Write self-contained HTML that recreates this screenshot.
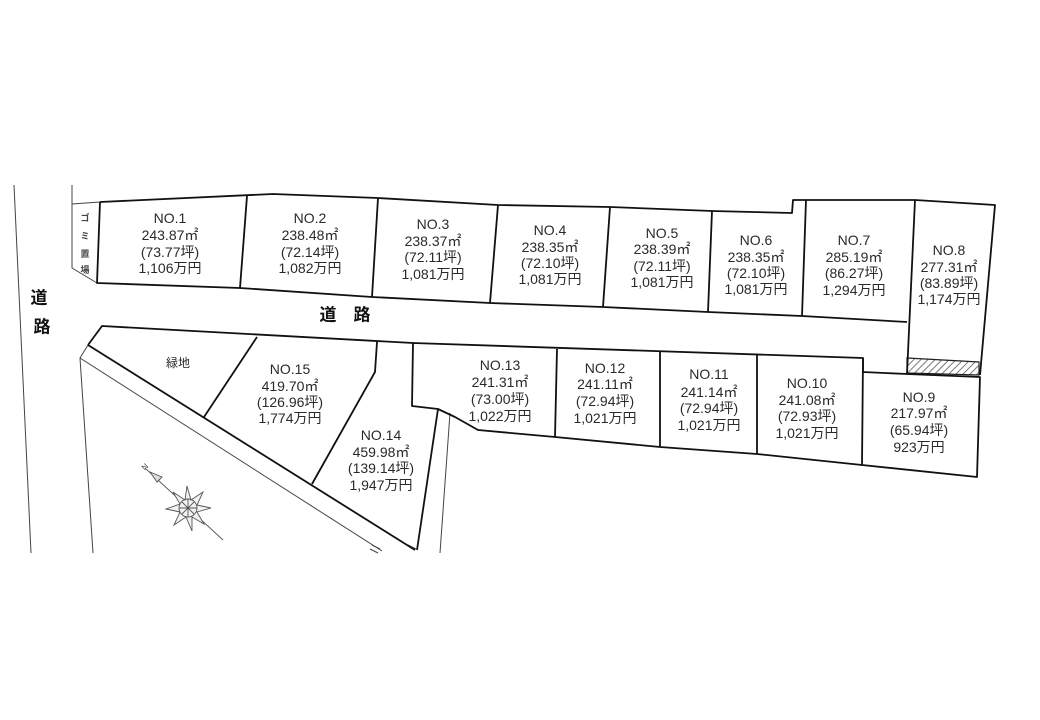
<!DOCTYPE html>
<html><head><meta charset="utf-8"><style>
html,body{margin:0;padding:0;background:#fff;}
svg{display:block;}
.t{font-family:"Liberation Sans","Noto Sans CJK JP",sans-serif;font-size:14px;fill:#2a2a2a;text-anchor:middle;dominant-baseline:central;}
.r{font-family:"Liberation Sans","Noto Sans CJK JP",sans-serif;font-size:17px;font-weight:bold;fill:#111;text-anchor:middle;dominant-baseline:central;}
.g{font-family:"Liberation Sans","Noto Sans CJK JP",sans-serif;font-size:9px;font-weight:bold;fill:#444;text-anchor:middle;dominant-baseline:central;}
</style></head><body>
<svg width="1040" height="720" viewBox="0 0 1040 720" xmlns="http://www.w3.org/2000/svg">
<defs>
<pattern id="h" patternUnits="userSpaceOnUse" width="5" height="5" patternTransform="rotate(45)">
<rect width="5" height="5" fill="#fff"/><line x1="0" y1="0" x2="0" y2="5" stroke="#555" stroke-width="1.6"/>
</pattern>
</defs>
<rect width="1040" height="720" fill="#fff"/>
<g fill="none" stroke="#444" stroke-width="1">
<path d="M14,185 L31,553"/>
<path d="M72,185 L72,268 L97,283"/>
<path d="M72,204 L100,202"/>
<path d="M88,345 L80,358 L93,553"/>
<path d="M80,358 L382,551"/>
<path d="M450,413 L440,553"/>
<path d="M372,545 L380,549 M370,549 L378,553"/>
<path d="M408,545 L416,549"/>
</g>
<polygon points="907,358 979,362 979,375 907,373" fill="url(#h)" stroke="#222" stroke-width="1.2"/>
<g fill="none" stroke="#111" stroke-width="1.8" stroke-linejoin="round">
<path d="M100,202 L273,194 L378,198 L498,205 L610,207 L712,211 L792,213 L793,200 L915,200 L995,205 L980,375"/>
<path d="M100,202 L97,283 L240,288 L372,297 L490,303 L603,307 L708,312 L802,316 L907,322"/>
<path d="M247,196 L240,288 M378,198 L372,297 M498,205 L490,303 M610,207 L603,307 M712,211 L708,312 M806,200 L802,316 M915,200 L907,374"/>
<path d="M88,345 L102,326 L413,343 L863,358 L863,372 L907,374 L980,377 L977,477 L862,465 L757,454 L660,447 L555,437 L478,430 L455,417 L438,409 L412,406 L413,343"/>
<path d="M557,349 L555,437 M660,352 L660,447 M757,355 L757,454 M863,358 L862,465"/>
<path d="M88,345 L415,550"/>
<path d="M257,337 L204,417"/>
<path d="M377,342 L375,372 L312,484"/>
<path d="M438,409 L417,550"/>
</g>
<!-- compass -->
<g stroke="#555" stroke-width="0.9" fill="#f2f2f2">
<line x1="145" y1="468" x2="223" y2="540"/>
<polygon points="150,472 162,477 157,482" fill="#ddd"/>
<polygon points="187,486 191,500 203,492 197,505 211,508 197,512 204,524 192,517 192,531 186,517 174,525 180,512 166,509 180,504 173,492 185,500"/>
<circle cx="188" cy="508" r="9" fill="none"/>
<line x1="179" y1="508" x2="197" y2="508"/><line x1="188" y1="499" x2="188" y2="517"/>
<line x1="182" y1="502" x2="194" y2="514"/><line x1="194" y1="502" x2="182" y2="514"/>
</g>
<text x="145" y="467" class="g" style="font-size:8px;font-weight:normal" transform="rotate(-45 145 467)">N</text>
<!-- labels -->
<text class="g" x="85" y="218">ゴ</text>
<text class="g" x="85" y="236">ミ</text>
<text class="g" x="85" y="254">置</text>
<text class="g" x="85" y="270">場</text>
<text class="r" x="39" y="298">道</text>
<text class="r" x="42" y="327">路</text>
<text class="r" x="328" y="315">道</text>
<text class="r" x="362" y="315">路</text>
<text class="t" x="178" y="363" style="font-size:12px">緑地</text>

<text class="t" x="170" y="218">NO.1</text><text class="t" x="170" y="235">243.87㎡</text><text class="t" x="170" y="252">(73.77坪)</text><text class="t" x="170" y="268">1,106万円</text>
<text class="t" x="310" y="218">NO.2</text><text class="t" x="310" y="235">238.48㎡</text><text class="t" x="310" y="252">(72.14坪)</text><text class="t" x="310" y="268">1,082万円</text>
<text class="t" x="433" y="224">NO.3</text><text class="t" x="433" y="241">238.37㎡</text><text class="t" x="433" y="257">(72.11坪)</text><text class="t" x="433" y="274">1,081万円</text>
<text class="t" x="550" y="230">NO.4</text><text class="t" x="550" y="247">238.35㎡</text><text class="t" x="550" y="263">(72.10坪)</text><text class="t" x="550" y="279">1,081万円</text>
<text class="t" x="662" y="233">NO.5</text><text class="t" x="662" y="249">238.39㎡</text><text class="t" x="662" y="266">(72.11坪)</text><text class="t" x="662" y="282">1,081万円</text>
<text class="t" x="756" y="240">NO.6</text><text class="t" x="756" y="257">238.35㎡</text><text class="t" x="756" y="273">(72.10坪)</text><text class="t" x="756" y="289">1,081万円</text>
<text class="t" x="854" y="240">NO.7</text><text class="t" x="854" y="257">285.19㎡</text><text class="t" x="854" y="273">(86.27坪)</text><text class="t" x="854" y="290">1,294万円</text>
<text class="t" x="949" y="250">NO.8</text><text class="t" x="949" y="267">277.31㎡</text><text class="t" x="949" y="283">(83.89坪)</text><text class="t" x="949" y="299">1,174万円</text>

<text class="t" x="290" y="369">NO.15</text><text class="t" x="290" y="386">419.70㎡</text><text class="t" x="290" y="402">(126.96坪)</text><text class="t" x="290" y="418">1,774万円</text>
<text class="t" x="381" y="435">NO.14</text><text class="t" x="381" y="452">459.98㎡</text><text class="t" x="381" y="468">(139.14坪)</text><text class="t" x="381" y="485">1,947万円</text>
<text class="t" x="500" y="365">NO.13</text><text class="t" x="500" y="382">241.31㎡</text><text class="t" x="500" y="399">(73.00坪)</text><text class="t" x="500" y="416">1,022万円</text>
<text class="t" x="605" y="368">NO.12</text><text class="t" x="605" y="384">241.11㎡</text><text class="t" x="605" y="401">(72.94坪)</text><text class="t" x="605" y="418">1,021万円</text>
<text class="t" x="709" y="374">NO.11</text><text class="t" x="709" y="392">241.14㎡</text><text class="t" x="709" y="408">(72.94坪)</text><text class="t" x="709" y="425">1,021万円</text>
<text class="t" x="807" y="383">NO.10</text><text class="t" x="807" y="400">241.08㎡</text><text class="t" x="807" y="416">(72.93坪)</text><text class="t" x="807" y="433">1,021万円</text>
<text class="t" x="919" y="397">NO.9</text><text class="t" x="919" y="413">217.97㎡</text><text class="t" x="919" y="430">(65.94坪)</text><text class="t" x="919" y="447">923万円</text>
</svg>
</body></html>
